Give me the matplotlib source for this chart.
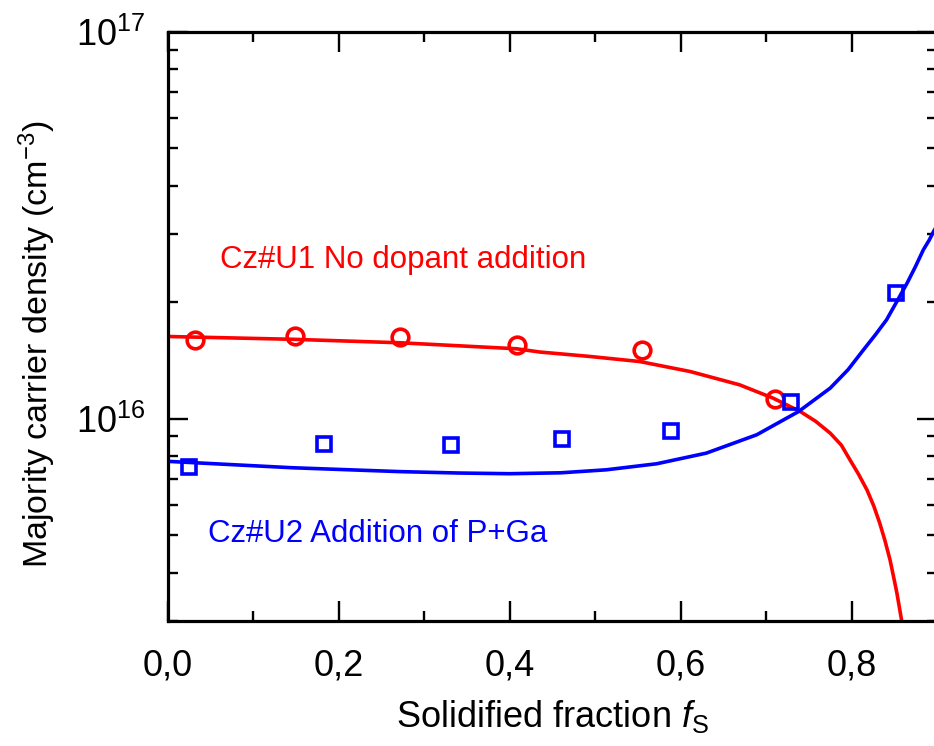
import numpy as np
import matplotlib
matplotlib.use("Agg")
import matplotlib.pyplot as plt
from matplotlib.ticker import FixedLocator, FixedFormatter, LogLocator, NullFormatter, MultipleLocator

plt.rcParams["font.family"] = ["Liberation Sans", "DejaVu Sans"]
plt.rcParams["mathtext.fontset"] = "custom"
plt.rcParams["mathtext.rm"] = "Liberation Sans"
plt.rcParams["mathtext.it"] = "Liberation Sans:italic"
plt.rcParams["mathtext.default"] = "regular"

# measured points
u1_fs = [0.032, 0.149, 0.272, 0.408, 0.555, 0.710]
u1_n = [1.60e16, 1.64e16, 1.625e16, 1.553e16, 1.507e16, 1.126e16]
u2_fs = [0.024, 0.182, 0.331, 0.4615, 0.589, 0.729, 0.852]
u2_n = [7.52e15, 8.60e15, 8.53e15, 8.86e15, 9.31e15, 1.108e16, 2.11e16]

# calculated curves
u1_fit_fs = [0.0, 0.146, 0.272, 0.408, 0.435, 0.494, 0.552, 0.611, 0.669, 0.708,
             0.740, 0.758, 0.775, 0.788, 0.798, 0.808, 0.818, 0.826, 0.833, 0.839,
             0.845, 0.849, 0.853, 0.856, 0.8586, 0.861]
u1_fit_n = [1.632e16, 1.605e16, 1.572e16, 1.517e16, 1.488e16, 1.449e16, 1.406e16,
            1.325e16, 1.224e16, 1.131e16, 1.044e16, 9.85e15, 9.18e15, 8.55e15,
            7.84e15, 7.20e15, 6.55e15, 5.95e15, 5.37e15, 4.85e15, 4.32e15, 3.92e15,
            3.55e15, 3.25e15, 3.01e15, 2.70e15]
u2_fit_fs = [0.0, 0.146, 0.272, 0.340, 0.400, 0.460, 0.513, 0.572, 0.630, 0.689,
             0.738, 0.775, 0.796, 0.814, 0.828, 0.841, 0.853, 0.865, 0.875, 0.884,
             0.891, 0.896, 0.904]
u2_fit_n = [7.76e15, 7.47e15, 7.30e15, 7.24e15, 7.21e15, 7.25e15, 7.38e15, 7.65e15,
            8.15e15, 9.09e15, 1.044e16, 1.200e16, 1.340e16, 1.508e16, 1.650e16,
            1.803e16, 2.010e16, 2.242e16, 2.480e16, 2.734e16, 2.900e16, 3.05e16,
            3.27e16]

xticks = [0.0, 0.2, 0.4, 0.6, 0.8]
xtick_labels = ["0,0", "0,2", "0,4", "0,6", "0,8"]
yticks = [1e16, 1e17]
ytick_labels = [r"$10^{16}$", r"$10^{17}$"]

red = "#ff0000"
blue = "#0000ff"

fig = plt.figure(figsize=(9.34, 7.46), dpi=100)
ax = fig.add_axes([168/934, 125/746, 769/934, 589/746])

ax.plot(u1_fit_fs, u1_fit_n, color=red, lw=2.6)
ax.plot(u2_fit_fs, u2_fit_n, color=blue, lw=2.6)
ax.plot(u1_fs, u1_n, "o", ms=12, mfc="none", mec=red, mew=2.6)
ax.plot(u2_fs, u2_n, "s", ms=10, mfc="none", mec=blue, mew=2.6)

ax.set_yscale("log")
ax.set_xlim(0, 0.9)
ax.set_ylim(3e15, 1e17)

ax.xaxis.set_major_locator(FixedLocator(xticks))
ax.xaxis.set_major_formatter(FixedFormatter(xtick_labels))
ax.xaxis.set_minor_locator(MultipleLocator(0.1))
ax.yaxis.set_major_locator(FixedLocator(yticks))
ax.yaxis.set_major_formatter(FixedFormatter(ytick_labels))
ax.yaxis.set_minor_locator(LogLocator(base=10, subs=np.arange(2, 10)))
ax.yaxis.set_minor_formatter(NullFormatter())

ax.tick_params(which="both", direction="in", top=True, right=True, width=1.7)
ax.tick_params(which="major", length=14.5, labelsize=26)
ax.tick_params(which="minor", length=7.5)
ax.tick_params(axis="x", which="major", pad=20)
ax.tick_params(axis="y", which="major", pad=16)
for s in ax.spines.values():
    s.set_linewidth(2.3)

ax.set_xlabel(r"Solidified fraction $\it{f}_\mathregular{S}$", fontsize=26, labelpad=10)
ax.set_ylabel(r"Majority carrier density (cm$^{-3}$)", fontsize=24.5)
ax.yaxis.set_label_coords(-0.143, 0.47)

ax.text(0.061, 2.58e16, "Cz#U1 No dopant addition", color=red, fontsize=22.5,
        va="center", ha="left")
ax.text(0.047, 5.05e15, "Cz#U2 Addition of P+Ga", color=blue, fontsize=22.5,
        va="center", ha="left")

fig.savefig("out.png", dpi=100)
